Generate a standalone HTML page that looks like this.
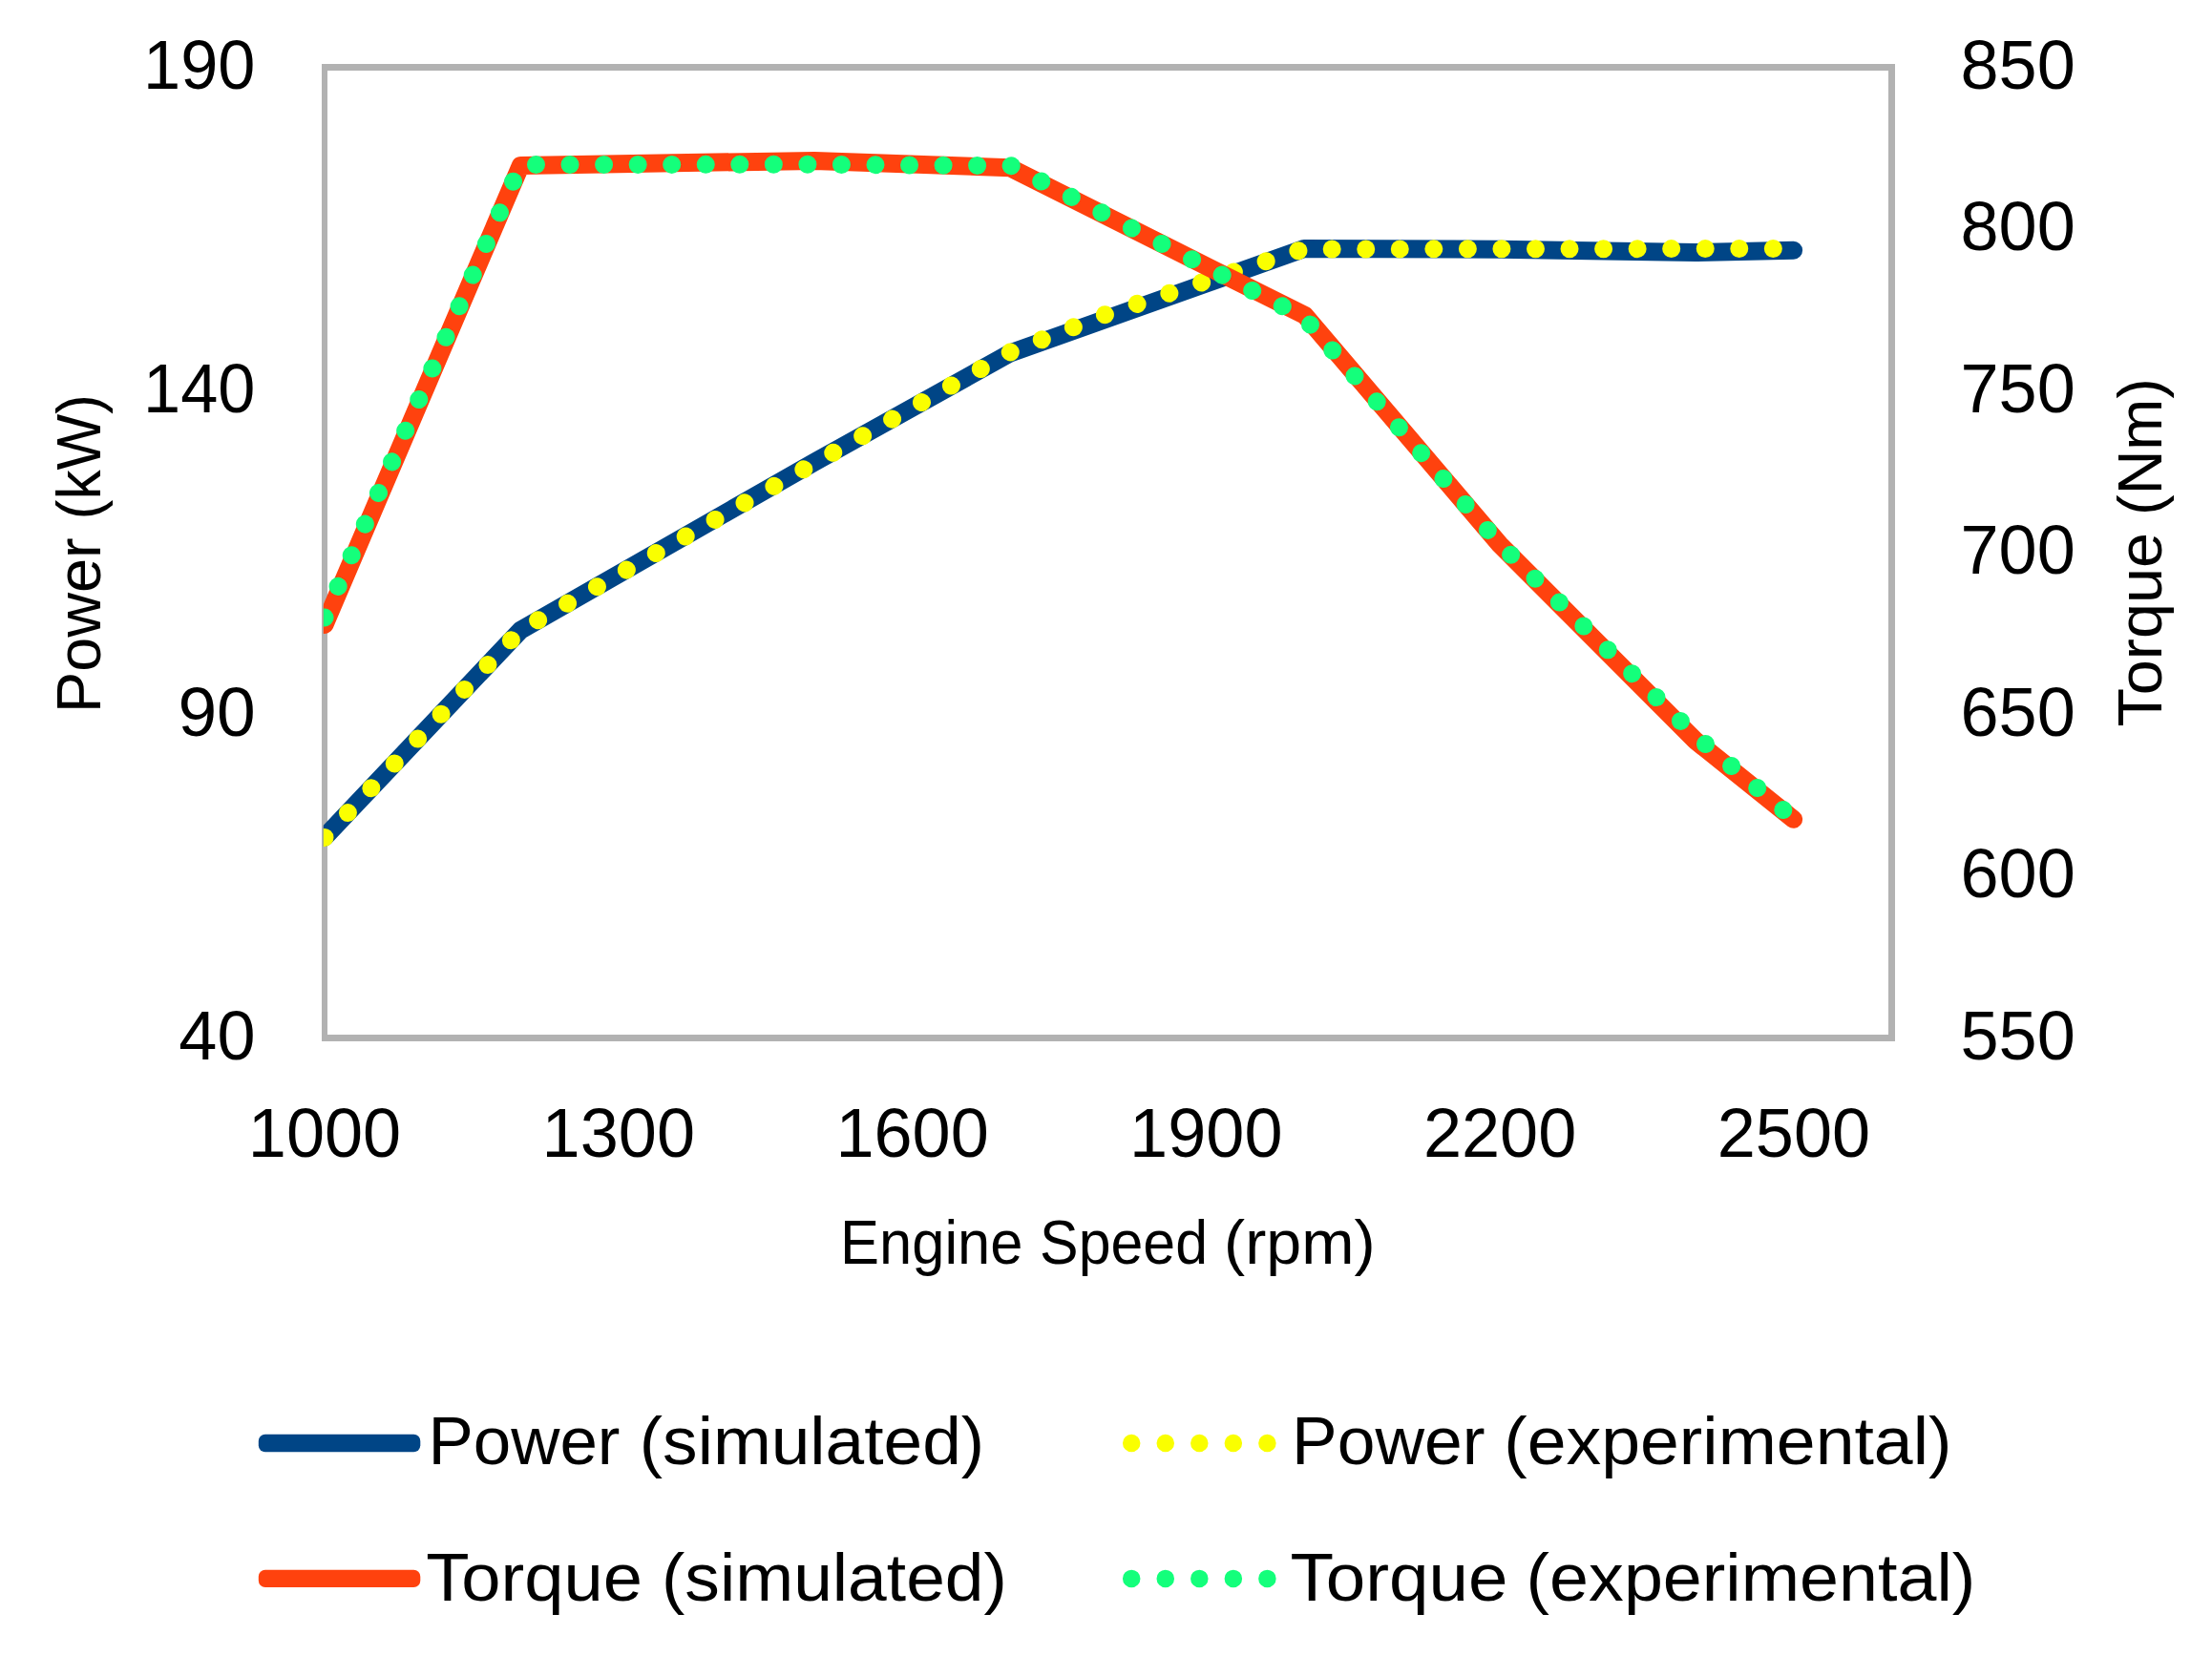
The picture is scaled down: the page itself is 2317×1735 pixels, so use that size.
<!DOCTYPE html>
<html lang="en"><head><meta charset="utf-8"><title>Engine power and torque: simulated vs experimental</title>
<style>html,body{margin:0;padding:0;background:#fff}svg{display:block}text{font-family:"Liberation Sans", sans-serif;fill:#000}</style>
</head><body>
<svg width="2317" height="1735" viewBox="0 0 2317 1735">
<rect width="2317" height="1735" fill="#fff"/>
<defs><clipPath id="plot"><rect x="338.8" y="60" width="1700" height="1040"/></clipPath></defs>
<g id="plot-border" fill="#B2B2B2"><rect x="337" y="67" width="1648" height="7"/><rect x="337" y="1084" width="1648" height="7"/><rect x="337" y="67" width="6" height="1024"/><rect x="1978" y="67" width="7" height="1024"/></g>
<g clip-path="url(#plot)" fill="none" stroke-linejoin="round" stroke-linecap="round" stroke-width="19">
<polyline points="340.0,877.2 545.3,660.2 853.0,484.2 1058.0,370.0 1366.0,260.5 1571.0,261.3 1776.0,264.5 1878.6,262.3" stroke="#004586"/>
<polyline points="340.0,877.4 545.4,660.1 1058.6,368.7 1160.7,328.4 1365.0,261.0 1878.6,260.5" stroke="#FAFF00" stroke-dasharray="0.01 35.54"/>
<polyline points="340.0,654.4 545.3,173.4 853.0,168.4 1058.0,175.8 1367.0,330.6 1571.0,570.5 1776.0,776.0 1878.6,858.3" stroke="#FF420E"/>
<polyline points="340.0,647.0 545.2,172.5 853.0,172.3 1059.0,173.6 1366.0,332.6 1571.0,570.0 1776.0,770.7 1878.6,857.7" stroke="#14FF7B" stroke-dasharray="0.01 35.54"/>
</g>
<g id="left-axis-labels">
<text x="267.4" y="92.8" font-size="71.6" text-anchor="end" textLength="117.4" lengthAdjust="spacingAndGlyphs">190</text>
<text x="267.4" y="431.8" font-size="71.6" text-anchor="end" textLength="117.4" lengthAdjust="spacingAndGlyphs">140</text>
<text x="267.8" y="770.7" font-size="71.6" text-anchor="end" textLength="81.4" lengthAdjust="spacingAndGlyphs">90</text>
<text x="267.5" y="1109.7" font-size="71.6" text-anchor="end" textLength="80.2" lengthAdjust="spacingAndGlyphs">40</text>
</g><g id="right-axis-labels">
<text x="2053.5" y="92.8" font-size="71.6" textLength="120.3" lengthAdjust="spacingAndGlyphs">850</text>
<text x="2053.5" y="262.3" font-size="71.6" textLength="120.3" lengthAdjust="spacingAndGlyphs">800</text>
<text x="2053.5" y="431.8" font-size="71.6" textLength="120.3" lengthAdjust="spacingAndGlyphs">750</text>
<text x="2053.5" y="601.2" font-size="71.6" textLength="120.3" lengthAdjust="spacingAndGlyphs">700</text>
<text x="2053.5" y="770.7" font-size="71.6" textLength="120.3" lengthAdjust="spacingAndGlyphs">650</text>
<text x="2053.5" y="940.2" font-size="71.6" textLength="120.3" lengthAdjust="spacingAndGlyphs">600</text>
<text x="2053.5" y="1109.7" font-size="71.6" textLength="120.3" lengthAdjust="spacingAndGlyphs">550</text>
</g><g id="x-axis-labels">
<text x="259.8" y="1211.7" font-size="71.6" textLength="160.4" lengthAdjust="spacingAndGlyphs">1000</text>
<text x="567.6" y="1211.7" font-size="71.6" textLength="160.4" lengthAdjust="spacingAndGlyphs">1300</text>
<text x="875.4" y="1211.7" font-size="71.6" textLength="160.4" lengthAdjust="spacingAndGlyphs">1600</text>
<text x="1183.1" y="1211.7" font-size="71.6" textLength="160.4" lengthAdjust="spacingAndGlyphs">1900</text>
<text x="1490.9" y="1211.7" font-size="71.6" textLength="160.4" lengthAdjust="spacingAndGlyphs">2200</text>
<text x="1798.7" y="1211.7" font-size="71.6" textLength="160.4" lengthAdjust="spacingAndGlyphs">2500</text>
</g>
<g id="xt">
<text x="880.1" y="1324.1" font-size="64.4" textLength="191.3" lengthAdjust="spacingAndGlyphs">Engine</text>
<text x="1089.1" y="1324.1" font-size="64.4" textLength="175.9" lengthAdjust="spacingAndGlyphs">Speed</text>
<text x="1282.1" y="1324.1" font-size="64.4" textLength="158.5" lengthAdjust="spacingAndGlyphs">(rpm)</text>
</g>
<g id="ylt">
<text transform="translate(104.9 747.1) rotate(-90)" font-size="64.4" textLength="183.7" lengthAdjust="spacingAndGlyphs">Power</text>
<text transform="translate(104.9 544.3) rotate(-90)" font-size="64.4" textLength="131.3" lengthAdjust="spacingAndGlyphs">(kW)</text>
</g>
<g id="yrt">
<text transform="translate(2263.9 761.5) rotate(-90)" font-size="64.4" textLength="203.5" lengthAdjust="spacingAndGlyphs">Torque</text>
<text transform="translate(2263.9 539.9) rotate(-90)" font-size="64.4" textLength="143.7" lengthAdjust="spacingAndGlyphs">(Nm)</text>
</g>
<g id="legend-keys" stroke-width="18.5" stroke-linecap="round" fill="none">
<rect x="270.8" y="1502.8" width="169.5" height="18.4" rx="7" stroke="none" fill="#004586"/>
<rect x="270.8" y="1644.7" width="169.5" height="18.4" rx="7" stroke="none" fill="#FF420E"/>
<line x1="1185.2" y1="1512" x2="1335.6" y2="1512" stroke="#FAFF00" stroke-dasharray="0.01 35.54"/>
<line x1="1185.2" y1="1653.9" x2="1335.6" y2="1653.9" stroke="#14FF7B" stroke-dasharray="0.01 35.54"/>
</g>
<g id="lg1">
<text x="448.4" y="1534.1" font-size="70.6" textLength="201.1" lengthAdjust="spacingAndGlyphs">Power</text>
<text x="669.8" y="1534.1" font-size="70.6" textLength="361.3" lengthAdjust="spacingAndGlyphs">(simulated)</text>
</g>
<g id="lg2">
<text x="446.2" y="1676.7" font-size="70.6" textLength="226.9" lengthAdjust="spacingAndGlyphs">Torque</text>
<text x="693.0" y="1676.7" font-size="70.6" textLength="361.9" lengthAdjust="spacingAndGlyphs">(simulated)</text>
</g>
<g id="lg3">
<text x="1353.0" y="1534.1" font-size="70.6" textLength="202.5" lengthAdjust="spacingAndGlyphs">Power</text>
<text x="1575.2" y="1534.1" font-size="70.6" textLength="469.3" lengthAdjust="spacingAndGlyphs">(experimental)</text>
</g>
<g id="lg4">
<text x="1351.4" y="1676.7" font-size="70.6" textLength="228.1" lengthAdjust="spacingAndGlyphs">Torque</text>
<text x="1598.6" y="1676.7" font-size="70.6" textLength="470.7" lengthAdjust="spacingAndGlyphs">(experimental)</text>
</g>
</svg>
</body></html>
